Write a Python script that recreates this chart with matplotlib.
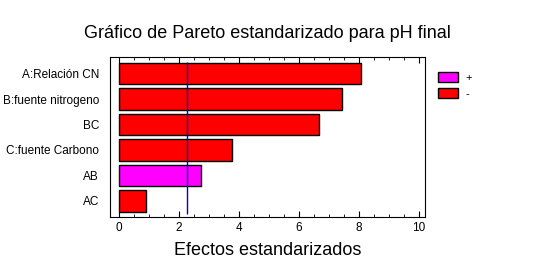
import numpy as np
import matplotlib.pyplot as plt
from matplotlib.patches import Patch
from matplotlib.ticker import MultipleLocator

plt.rcParams['font.family'] = ['Liberation Sans', 'DejaVu Sans']

### Data ###
factors = ['A:Relación CN', 'B:fuente nitrogeno', 'BC', 'C:fuente Carbono', 'AB', 'AC']
effects = [8.07, 7.44, 6.68, 3.75, 2.73, 0.90]
signs = ['-', '-', '-', '-', '+', '-']
critical = 2.28

colors = {'+': '#ff00ff', '-': '#ff0000'}

### Plot ###
fig = plt.figure(figsize=(5.35, 2.74), dpi=100)
ax = fig.add_axes([110 / 535, 1 - 217 / 274, 315 / 535, 160 / 274])

pos = np.arange(len(factors))
ax.barh(pos, effects, height=0.83, color=[colors[s] for s in signs],
        edgecolor='black', linewidth=1)
ax.vlines(critical, -0.45, 5.5, color='#0000cc', linewidth=1)

ax.set_xlim(-0.3, 10.2)
ax.set_ylim(5.63, -0.65)
ax.set_yticks(pos)
ax.set_yticklabels(factors, fontsize=8.5)
ax.tick_params(axis='y', length=0, pad=8)
ax.xaxis.set_major_locator(MultipleLocator(2))
ax.xaxis.set_minor_locator(MultipleLocator(0.5))
ax.tick_params(axis='x', which='both', direction='in', top=True, labelsize=8.5)
ax.tick_params(axis='x', which='major', length=4)
ax.tick_params(axis='x', which='minor', length=2)
ax.set_xlabel('Efectos estandarizados', fontsize=13, labelpad=6)

fig.text(0.5, 1 - 33 / 274, 'Gráfico de Pareto estandarizado para pH final',
         ha='center', va='center', fontsize=13)

handles = [Patch(facecolor=colors['+'], edgecolor='black', label='+'),
           Patch(facecolor=colors['-'], edgecolor='black', label='-')]
fig.legend(handles=handles, loc='upper left', bbox_to_anchor=(434 / 535, 1 - 68 / 274),
           frameon=False, fontsize=8, handlelength=1.8, handleheight=0.9,
           handletextpad=0.6, labelspacing=0.5, borderaxespad=0)

fig.savefig('out.png', dpi=100)
